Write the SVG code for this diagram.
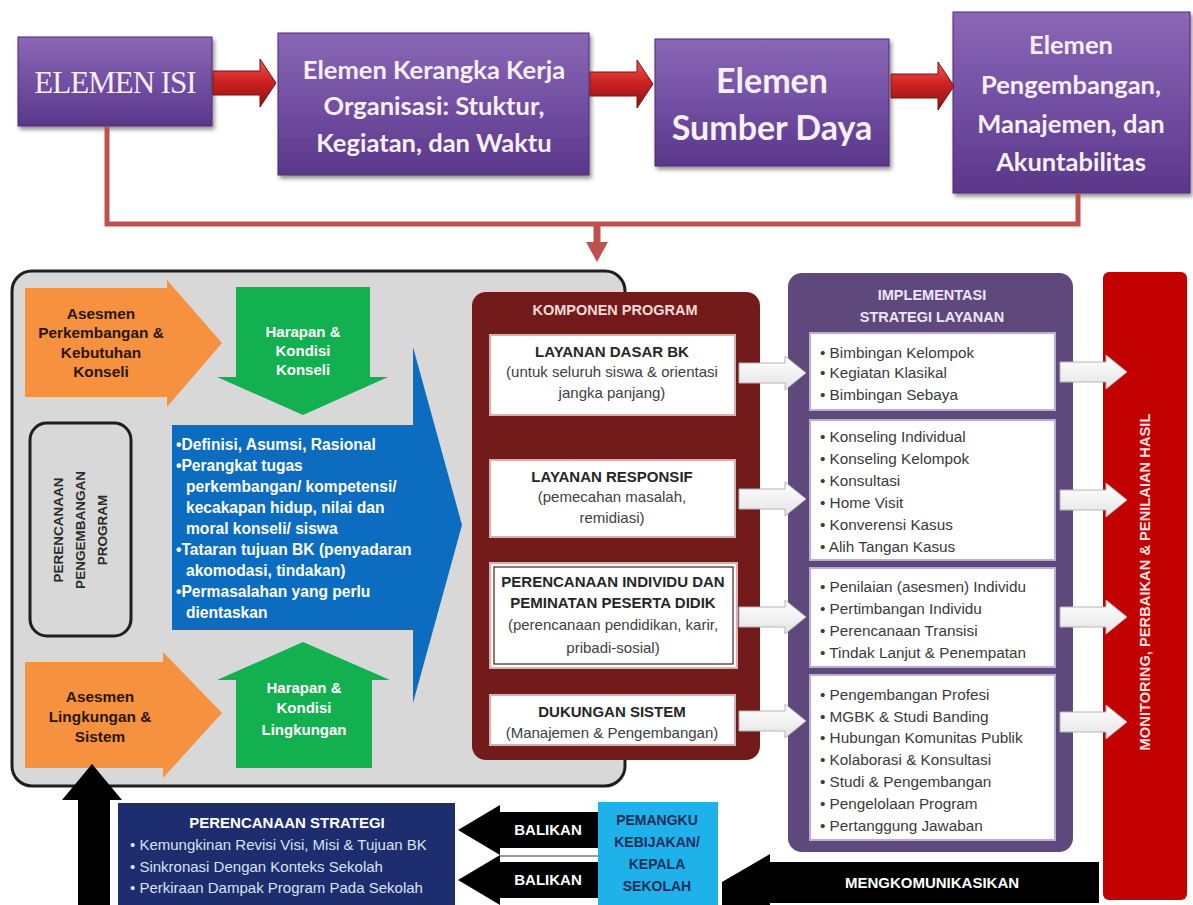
<svg xmlns="http://www.w3.org/2000/svg" width="1193" height="905" viewBox="0 0 1193 905">
<defs>
  <linearGradient id="gPurple" x1="0" y1="0" x2="0" y2="1">
    <stop offset="0" stop-color="#8a67b6"/>
    <stop offset="0.5" stop-color="#734fa3"/>
    <stop offset="1" stop-color="#5a3789"/>
  </linearGradient>
  <linearGradient id="gRed" x1="0" y1="0" x2="0" y2="1">
    <stop offset="0" stop-color="#ee5a52"/>
    <stop offset="0.45" stop-color="#cf2222"/>
    <stop offset="1" stop-color="#8c1212"/>
  </linearGradient>
  <linearGradient id="gWhite" x1="0" y1="0" x2="0" y2="1">
    <stop offset="0" stop-color="#ffffff"/>
    <stop offset="1" stop-color="#e4e4e4"/>
  </linearGradient>
  <filter id="shadow" x="-10%" y="-10%" width="130%" height="130%">
    <feDropShadow dx="2" dy="3" stdDeviation="2" flood-color="#000" flood-opacity="0.45"/>
  </filter>
  <path id="redArrow" d="M0 -12 L47 -12 L47 -24 L63 0 L47 24 L47 12 L0 12 Z"/>
  <path id="whiteArrow" d="M-67 -10 L-21 -10 L-21 -17 L0 0 L-21 17 L-21 10 L-67 10 Z"/>
  <path id="blackLeft" d="M0 0 L42 -25 L42 -18 L140 -18 L140 18 L42 18 L42 25 Z"/>
</defs>
<style>
  .sans { font-family: "Liberation Sans", Arial, sans-serif; }
  .b { font-weight: bold; }
  .mid { text-anchor: middle; }
  .topt { font-family: Lato, "Liberation Sans", sans-serif; font-weight: bold; fill: #f6f0fb; text-anchor: middle; }
  .pbox { fill: url(#gPurple); stroke: #4a2d73; stroke-width: 1; filter: url(#shadow); }
  .redarr { fill: url(#gRed); stroke: #7a1010; stroke-width: 1; }
  .warr { fill: url(#gWhite); stroke: #b5b5b5; stroke-width: 1; }
  .orange { fill: #f6923f; }
  .green { fill: #12b04f; }
  .otext { font-family: "Liberation Sans", Arial, sans-serif; font-weight: bold; font-size: 15.4px; fill: #2a1505; text-anchor: middle; }
  .gtext { font-family: "Liberation Sans", Arial, sans-serif; font-weight: bold; font-size: 15px; fill: #ffffff; text-anchor: middle; }
  .btext { font-family: "Liberation Sans", Arial, sans-serif; font-weight: bold; font-size: 15.6px; fill: #ffffff; }
  .kbox { fill: #ffffff; stroke: #d7b1b1; stroke-width: 2; }
  .ktitle { font-family: "Liberation Sans", Arial, sans-serif; font-weight: bold; font-size: 15px; fill: #262626; text-anchor: middle; }
  .ksub { font-family: "Liberation Sans", Arial, sans-serif; font-size: 15px; fill: #404040; text-anchor: middle; }
  .ibox { fill: #ffffff; stroke: #b9acd6; stroke-width: 2; }
  .itext { font-family: "Liberation Sans", Arial, sans-serif; font-size: 15.3px; fill: #3a3a3a; }
  .ntext { font-family: "Liberation Sans", Arial, sans-serif; font-size: 15px; fill: #d9e1f2; }
  .wbold { font-family: "Liberation Sans", Arial, sans-serif; font-weight: bold; font-size: 15px; fill: #ffffff; text-anchor: middle; }
  .rot { font-family: "Liberation Sans", Arial, sans-serif; font-weight: bold; font-size: 13.5px; fill: #2b2b2b; text-anchor: middle; }
</style>

<rect width="1193" height="905" fill="#ffffff"/>

<!-- Top row nodes -->
<g id="elemen-isi">
  <rect class="pbox" x="18" y="37" width="194" height="89"/>
  <text x="115" y="93" font-family="'Liberation Serif', 'Times New Roman', serif" font-size="31" fill="#f3eef8" text-anchor="middle" letter-spacing="-1">ELEMEN ISI</text>
</g>
<g id="elemen-kerangka">
  <rect class="pbox" x="278" y="33" width="311" height="142"/>
  <text class="topt" font-size="25.5"><tspan x="434" y="79">Elemen Kerangka Kerja</tspan><tspan x="434" y="115">Organisasi: Stuktur,</tspan><tspan x="434" y="152">Kegiatan, dan Waktu</tspan></text>
</g>
<g id="elemen-sumber">
  <rect class="pbox" x="655" y="39" width="234" height="127"/>
  <text class="topt" font-size="34"><tspan x="772" y="93">Elemen</tspan><tspan x="772" y="140">Sumber Daya</tspan></text>
</g>
<g id="elemen-pengembangan">
  <rect class="pbox" x="953" y="12" width="237" height="181"/>
  <text class="topt" font-size="25.5"><tspan x="1071" y="54">Elemen</tspan><tspan x="1071" y="94">Pengembangan,</tspan><tspan x="1071" y="133">Manajemen, dan</tspan><tspan x="1071" y="171">Akuntabilitas</tspan></text>
</g>

<!-- Left gray panel -->
<g id="panel-perencanaan">
  <rect x="12" y="271" width="613" height="515" rx="20" fill="#d8d8d8" stroke="#1e1e1e" stroke-width="3"/>
</g>
<g id="asesmen-perkembangan">
  <path class="orange" d="M25 288 L167 288 L167 280 L222 343 L167 407 L167 397 L25 397 Z"/>
  <text class="otext"><tspan x="101" y="319">Asesmen</tspan><tspan x="101" y="338">Perkembangan &amp;</tspan><tspan x="101" y="358">Kebutuhan</tspan><tspan x="101" y="377">Konseli</tspan></text>
</g>
<g id="harapan-konseli">
  <path class="green" d="M236 287 L370 287 L370 377 L388 377 L303 415 L217 377 L236 377 Z"/>
  <text class="gtext"><tspan x="303" y="337">Harapan &amp;</tspan><tspan x="303" y="356">Kondisi</tspan><tspan x="303" y="375">Konseli</tspan></text>
</g>
<g id="perencanaan-pengembangan-program">
  <rect x="30" y="423" width="101" height="213" rx="17" fill="#d8d8d8" stroke="#1e1e1e" stroke-width="3"/>
  <text class="rot" transform="translate(63 530) rotate(-90)">PERENCANAAN</text>
  <text class="rot" transform="translate(85 530) rotate(-90)">PENGEMBANGAN</text>
  <text class="rot" transform="translate(107 530) rotate(-90)">PROGRAM</text>
</g>
<g id="landasan-program">
  <path d="M172 425 L413 425 L413 347 L462 525 L413 703 L413 630 L172 630 Z" fill="#0c6cc0"/>
  <text class="btext">
    <tspan x="176" y="450">•Definisi, Asumsi, Rasional</tspan>
    <tspan x="176" y="471">•Perangkat tugas</tspan>
    <tspan x="186" y="492">perkembangan/ kompetensi/</tspan>
    <tspan x="186" y="513">kecakapan hidup, nilai dan</tspan>
    <tspan x="186" y="534">moral konseli/ siswa</tspan>
    <tspan x="176" y="555">•Tataran tujuan BK (penyadaran</tspan>
    <tspan x="186" y="576">akomodasi, tindakan)</tspan>
    <tspan x="176" y="597">•Permasalahan yang perlu</tspan>
    <tspan x="186" y="618">dientaskan</tspan>
  </text>
</g>
<g id="asesmen-lingkungan">
  <path class="orange" d="M25 662 L163 662 L163 652 L222 713 L163 778 L163 768 L25 768 Z"/>
  <text class="otext"><tspan x="100" y="702">Asesmen</tspan><tspan x="100" y="722">Lingkungan &amp;</tspan><tspan x="100" y="742">Sistem</tspan></text>
</g>
<g id="harapan-lingkungan">
  <path class="green" d="M303 642 L390 680 L372 680 L372 768 L236 768 L236 680 L217 680 Z"/>
  <text class="gtext"><tspan x="304" y="693">Harapan &amp;</tspan><tspan x="304" y="713">Kondisi</tspan><tspan x="304" y="735">Lingkungan</tspan></text>
</g>

<!-- Komponen Program -->
<g id="komponen-program">
  <rect x="472" y="292" width="288" height="468" rx="14" fill="#731b1b"/>
  <text class="sans b mid" x="615" y="315" font-size="14.5" fill="#f4d9d9">KOMPONEN PROGRAM</text>
</g>
<g id="layanan-dasar">
  <rect class="kbox" x="490" y="335" width="245" height="80"/>
  <text class="ktitle" x="612" y="357">LAYANAN DASAR BK</text>
  <text class="ksub"><tspan x="612" y="377">(untuk seluruh siswa &amp; orientasi</tspan><tspan x="612" y="398">jangka panjang)</tspan></text>
</g>
<g id="layanan-responsif">
  <rect class="kbox" x="490" y="460" width="245" height="77"/>
  <text class="ktitle" x="612" y="482">LAYANAN RESPONSIF</text>
  <text class="ksub"><tspan x="612" y="502">(pemecahan masalah,</tspan><tspan x="612" y="523">remidiasi)</tspan></text>
</g>
<g id="perencanaan-individu">
  <rect class="kbox" x="490" y="563" width="247" height="105"/>
  <rect x="494" y="567" width="239" height="97" fill="none" stroke="#5a1a1a" stroke-width="1.2"/>
  <text class="ktitle"><tspan x="613" y="587">PERENCANAAN INDIVIDU DAN</tspan><tspan x="613" y="608">PEMINATAN PESERTA DIDIK</tspan></text>
  <text class="ksub"><tspan x="613" y="630">(perencanaan pendidikan, karir,</tspan><tspan x="613" y="653">pribadi-sosial)</tspan></text>
</g>
<g id="dukungan-sistem">
  <rect class="kbox" x="490" y="695" width="245" height="50"/>
  <text class="ktitle" x="612" y="717">DUKUNGAN SISTEM</text>
  <text class="ksub" x="612" y="738">(Manajemen &amp; Pengembangan)</text>
</g>

<!-- Implementasi -->
<g id="implementasi-strategi">
  <rect x="788" y="273" width="285" height="579" rx="14" fill="#5f497c"/>
  <text class="sans b mid" font-size="14.5" fill="#ebe5f5"><tspan x="932" y="300">IMPLEMENTASI</tspan><tspan x="932" y="322">STRATEGI LAYANAN</tspan></text>
</g>
<g id="impl-layanan-dasar">
  <rect class="ibox" x="810" y="333" width="245" height="77"/>
  <text class="itext"><tspan x="820" y="358">•  Bimbingan Kelompok</tspan><tspan x="820" y="378">•  Kegiatan Klasikal</tspan><tspan x="820" y="400">•  Bimbingan Sebaya</tspan></text>
</g>
<g id="impl-responsif">
  <rect class="ibox" x="810" y="420" width="245" height="140"/>
  <text class="itext"><tspan x="820" y="442">•  Konseling Individual</tspan><tspan x="820" y="464">•  Konseling Kelompok</tspan><tspan x="820" y="486">•  Konsultasi</tspan><tspan x="820" y="508">•  Home Visit</tspan><tspan x="820" y="530">•  Konverensi Kasus</tspan><tspan x="820" y="552">•  Alih Tangan Kasus</tspan></text>
</g>
<g id="impl-perencanaan-individu">
  <rect class="ibox" x="810" y="568" width="245" height="99"/>
  <text class="itext"><tspan x="820" y="592">•  Penilaian (asesmen) Individu</tspan><tspan x="820" y="614">•  Pertimbangan Individu</tspan><tspan x="820" y="636">•  Perencanaan Transisi</tspan><tspan x="820" y="658">•  Tindak Lanjut &amp; Penempatan</tspan></text>
</g>
<g id="impl-dukungan-sistem">
  <rect class="ibox" x="810" y="675" width="245" height="165"/>
  <text class="itext"><tspan x="820" y="700">•  Pengembangan Profesi</tspan><tspan x="820" y="722">•  MGBK &amp; Studi Banding</tspan><tspan x="820" y="743">•  Hubungan Komunitas Publik</tspan><tspan x="820" y="765">•  Kolaborasi &amp; Konsultasi</tspan><tspan x="820" y="787">•  Studi &amp; Pengembangan</tspan><tspan x="820" y="809">•  Pengelolaan Program</tspan><tspan x="820" y="831">•  Pertanggung Jawaban</tspan></text>
</g>

<!-- Monitoring -->
<g id="monitoring">
  <rect x="1103" y="272" width="84" height="628" rx="6" fill="#c20000"/>
  <text class="sans b mid" font-size="14.7" fill="#fbe3e3" transform="translate(1150 582) rotate(-90)">MONITORING, PERBAIKAN &amp; PENILAIAN HASIL</text>
</g>

<!-- Bottom -->
<g id="perencanaan-strategi">
  <rect x="118" y="803" width="337" height="102" fill="#1d2d6d"/>
  <text class="sans b mid" x="287" y="828" font-size="15" fill="#ffffff">PERENCANAAN STRATEGI</text>
  <text class="ntext"><tspan x="130" y="850">•  Kemungkinan Revisi Visi, Misi &amp; Tujuan BK</tspan><tspan x="130" y="872">•  Sinkronasi Dengan Konteks Sekolah</tspan><tspan x="130" y="893">•  Perkiraan Dampak Program Pada Sekolah</tspan></text>
</g>
<g id="pemangku-kebijakan">
  <rect x="598" y="802" width="120" height="103" fill="#1fb2ea"/>
  <text class="sans b mid" font-size="14" fill="#1a2e5a"><tspan x="657" y="825">PEMANGKU</tspan><tspan x="657" y="847">KEBIJAKAN/</tspan><tspan x="657" y="869">KEPALA</tspan><tspan x="657" y="891">SEKOLAH</tspan></text>
</g>

<!-- Connectors -->
<g id="connectors">
  <use href="#redArrow" class="redarr" transform="translate(213 83)"/>
  <use href="#redArrow" class="redarr" transform="translate(590 84)"/>
  <use href="#redArrow" class="redarr" transform="translate(891 86)"/>
  <path d="M107 127 L107 224 L1078 224 L1078 193" fill="none" stroke="#c0504d" stroke-width="5"/>
  <path d="M597 224 L597 243" fill="none" stroke="#c0504d" stroke-width="7"/>
  <path d="M586 242 L608 242 L597 262 Z" fill="#c0504d"/>

  <use href="#whiteArrow" class="warr" transform="translate(806 373)"/>
  <use href="#whiteArrow" class="warr" transform="translate(806 499)"/>
  <use href="#whiteArrow" class="warr" transform="translate(806 617)"/>
  <use href="#whiteArrow" class="warr" transform="translate(806 721)"/>
  <use href="#whiteArrow" class="warr" transform="translate(1127 372)"/>
  <use href="#whiteArrow" class="warr" transform="translate(1127 500)"/>
  <use href="#whiteArrow" class="warr" transform="translate(1127 617)"/>
  <use href="#whiteArrow" class="warr" transform="translate(1127 722)"/>

  <path d="M62 800 L92 764 L122 800 L110 800 L110 905 L78 905 L78 800 Z" fill="#000000"/>

  <use href="#blackLeft" fill="#000000" transform="translate(458 830)"/>
  <use href="#blackLeft" fill="#000000" transform="translate(458 880)"/>
  <line x1="500" y1="856" x2="598" y2="856" stroke="#9a9a9a" stroke-width="2"/>
  <text class="wbold" x="548" y="835">BALIKAN</text>
  <text class="wbold" x="548" y="885">BALIKAN</text>

  <path d="M722 882 L770 854 L770 862 L1099 862 L1099 903 L770 903 L770 905 L722 905 Z" fill="#000000"/>
  <text class="wbold" x="932" y="888">MENGKOMUNIKASIKAN</text>
</g>
</svg>
